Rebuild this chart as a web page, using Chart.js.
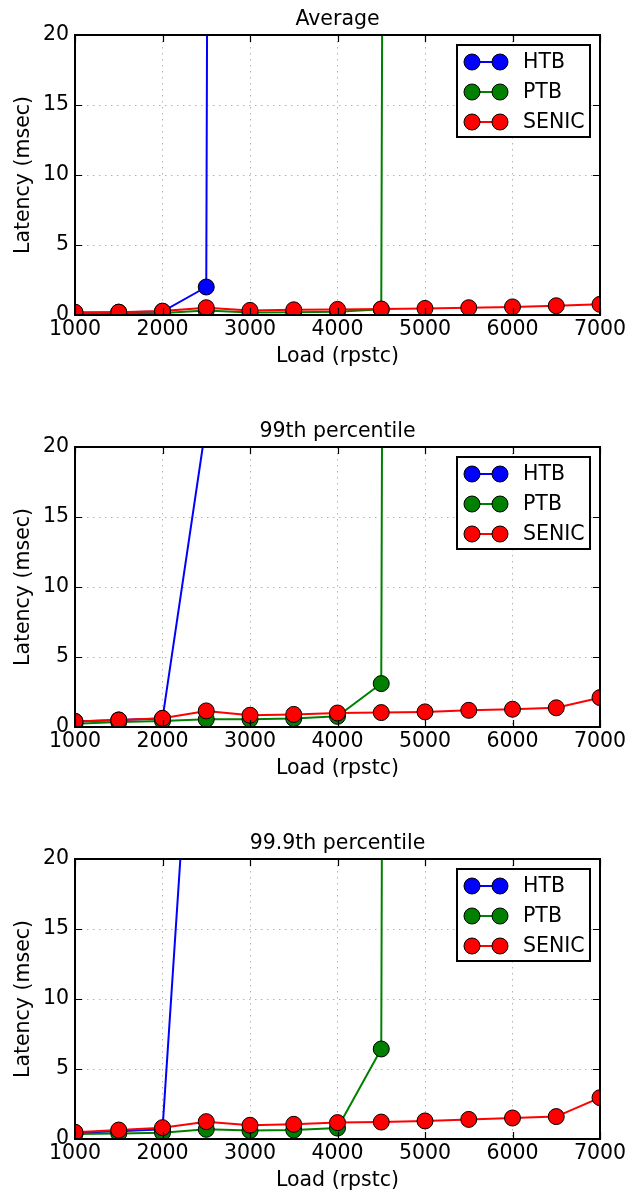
<!DOCTYPE html>
<html>
<head>
<meta charset="utf-8">
<script src="https://cdn.jsdelivr.net/npm/chart.js@4/dist/chart.umd.min.js"></script>
<style>
  html, body { margin: 0; padding: 0; background: #fff; }
  body { width: 631px; height: 1195px; position: relative; overflow: hidden; }
  canvas { position: absolute; left: 0; }
</style>
</head>
<body>
<canvas id="avg" width="631" height="371" style="top:0px"></canvas>
<canvas id="p99" width="631" height="371" style="top:412px"></canvas>
<canvas id="p999" width="631" height="371" style="top:824px"></canvas>
<script>
// Offered load (requests per second per client)
const loads = [1000, 1500, 2000, 2500, 3000, 3500, 4000, 4500, 5000, 5500, 6000, 6500, 7000];
const xTicks = [1000, 2000, 3000, 4000, 5000, 6000, 7000];
const yTicks = [0, 5, 10, 15, 20];

// Average latency (msec); saturated runs shoot far above the axis
const avgHTB   = [0.15, 0.2, 0.25, 2.0, 1000, null, null, null, null, null, null, null, null];
const avgPTB   = [0.1, 0.1, 0.14, 0.32, 0.17, 0.2, 0.24, 0.4, 1000, null, null, null, null];
const avgSENIC = [0.2, 0.2, 0.28, 0.52, 0.33, 0.37, 0.4, 0.43, 0.47, 0.52, 0.58, 0.66, 0.76];

// 99th percentile latency (msec)
const p99HTB   = [0.4, 0.5, 0.6, 21.7, null, null, null, null, null, null, null, null, null];
const p99PTB   = [0.24, 0.36, 0.43, 0.55, 0.55, 0.6, 0.76, 3.1, 1000, null, null, null, null];
const p99SENIC = [0.4, 0.5, 0.62, 1.15, 0.84, 0.9, 1.0, 1.03, 1.08, 1.19, 1.27, 1.37, 2.1];

// 99.9th percentile latency (msec)
const p999HTB   = [0.45, 0.55, 0.7, 48, null, null, null, null, null, null, null, null, null];
const p999PTB   = [0.36, 0.4, 0.45, 0.69, 0.6, 0.64, 0.78, 6.43, 1000, null, null, null, null];
const p999SENIC = [0.48, 0.64, 0.81, 1.24, 0.98, 1.05, 1.17, 1.21, 1.29, 1.4, 1.5, 1.6, 2.95];

const FONT = '"DejaVu Sans", sans-serif';
const FS = 20.5;
Chart.defaults.font.family = FONT;
Chart.defaults.font.size = FS;
Chart.defaults.color = '#000';

// Axes frame, inward tick marks, panel title and legend box
const framePlugin = {
  id: 'frame',
  afterDraw(chart, args, opts) {
    const { ctx, chartArea: a, scales: { x, y } } = chart;
    ctx.save();
    ctx.strokeStyle = '#000';
    ctx.lineWidth = 1.2;
    ctx.beginPath();
    const tl = 7;
    xTicks.forEach(v => {
      const px = Math.round(x.getPixelForValue(v)) + 0.5;
      ctx.moveTo(px, a.bottom); ctx.lineTo(px, a.bottom - tl);
      ctx.moveTo(px, a.top); ctx.lineTo(px, a.top + tl);
    });
    yTicks.forEach(v => {
      const py = Math.round(y.getPixelForValue(v)) + 0.5;
      ctx.moveTo(a.left, py); ctx.lineTo(a.left + tl, py);
      ctx.moveTo(a.right, py); ctx.lineTo(a.right - tl, py);
    });
    ctx.stroke();

    ctx.lineWidth = 2;
    ctx.strokeRect(a.left, a.top, a.right - a.left, a.bottom - a.top);

    // title
    ctx.fillStyle = '#000';
    ctx.font = FS + 'px ' + FONT;
    ctx.textAlign = 'center';
    ctx.textBaseline = 'alphabetic';
    ctx.fillText(opts.title, (a.left + a.right) / 2, a.top - 10);

    // legend
    const bw = 133, bh = 92;
    const bx = a.right - 10 - bw, by = a.top + 10;
    ctx.fillStyle = '#fff';
    ctx.fillRect(bx, by, bw, bh);
    ctx.lineWidth = 2;
    ctx.strokeStyle = '#000';
    ctx.strokeRect(bx, by, bw, bh);
    chart.data.datasets.forEach((ds, i) => {
      const cy = by + 17 + i * 30;
      const x1 = bx + 15, x2 = bx + 43;
      ctx.strokeStyle = ds.borderColor;
      ctx.lineWidth = ds.borderWidth;
      ctx.beginPath();
      ctx.moveTo(x1, cy); ctx.lineTo(x2, cy);
      ctx.stroke();
      [x1, x2].forEach(cx => {
        ctx.beginPath();
        ctx.arc(cx, cy, ds.pointRadius, 0, Math.PI * 2);
        ctx.fillStyle = ds.pointBackgroundColor;
        ctx.fill();
        ctx.lineWidth = 1;
        ctx.strokeStyle = '#000';
        ctx.stroke();
      });
      ctx.fillStyle = '#000';
      ctx.textAlign = 'left';
      ctx.textBaseline = 'middle';
      ctx.fillText(ds.label, bx + 66, cy + 1);
    });
    ctx.restore();
  }
};

// later series are painted over earlier ones
function series(label, color, values, order) {
  return {
    label,
    order,
    data: loads.map((x, i) => ({ x, y: values[i] })),
    borderColor: color,
    backgroundColor: color,
    pointBackgroundColor: color,
    pointBorderColor: '#000',
    pointBorderWidth: 1,
    pointRadius: 8,
    borderWidth: 2,
    tension: 0,
    clip: 0
  };
}

function makeChart(id, title, htb, ptb, senic) {
  return new Chart(document.getElementById(id), {
    type: 'line',
    data: {
      datasets: [
        series('HTB', '#0000ff', htb, 3),
        series('PTB', '#008000', ptb, 2),
        series('SENIC', '#ff0000', senic, 1)
      ]
    },
    options: {
      responsive: false,
      animation: false,
      events: [],
      layout: { padding: { top: 35, right: 31, left: 0, bottom: 0 } },
      plugins: {
        legend: { display: false },
        tooltip: { enabled: false },
        frame: { title }
      },
      scales: {
        x: {
          type: 'linear',
          min: 1000, max: 7000,
          afterFit: s => { s.height = 56; },
          afterBuildTicks: s => { s.ticks = xTicks.map(v => ({ value: v })); },
          ticks: { padding: 2, maxRotation: 0, autoSkip: false, callback: v => String(v) },
          grid: { color: 'rgba(0,0,0,0.3)', lineWidth: 1, drawTicks: false },
          border: { display: false, dash: [1.5, 4.5] },
          title: { display: true, text: 'Load (rpstc)', padding: { top: 0, bottom: 2 } }
        },
        y: {
          type: 'linear',
          min: 0, max: 20,
          afterFit: s => { s.width = 75; },
          afterBuildTicks: s => { s.ticks = yTicks.map(v => ({ value: v })); },
          ticks: { padding: 6, callback: v => String(v) },
          grid: { color: 'rgba(0,0,0,0.3)', lineWidth: 1, drawTicks: false },
          border: { display: false, dash: [1.5, 4.5] },
          title: { display: true, text: 'Latency (msec)', padding: { top: 11, bottom: 0 } }
        }
      }
    },
    plugins: [framePlugin]
  });
}

makeChart('avg', 'Average', avgHTB, avgPTB, avgSENIC);
makeChart('p99', '99th percentile', p99HTB, p99PTB, p99SENIC);
makeChart('p999', '99.9th percentile', p999HTB, p999PTB, p999SENIC);
</script>
</body>
</html>
